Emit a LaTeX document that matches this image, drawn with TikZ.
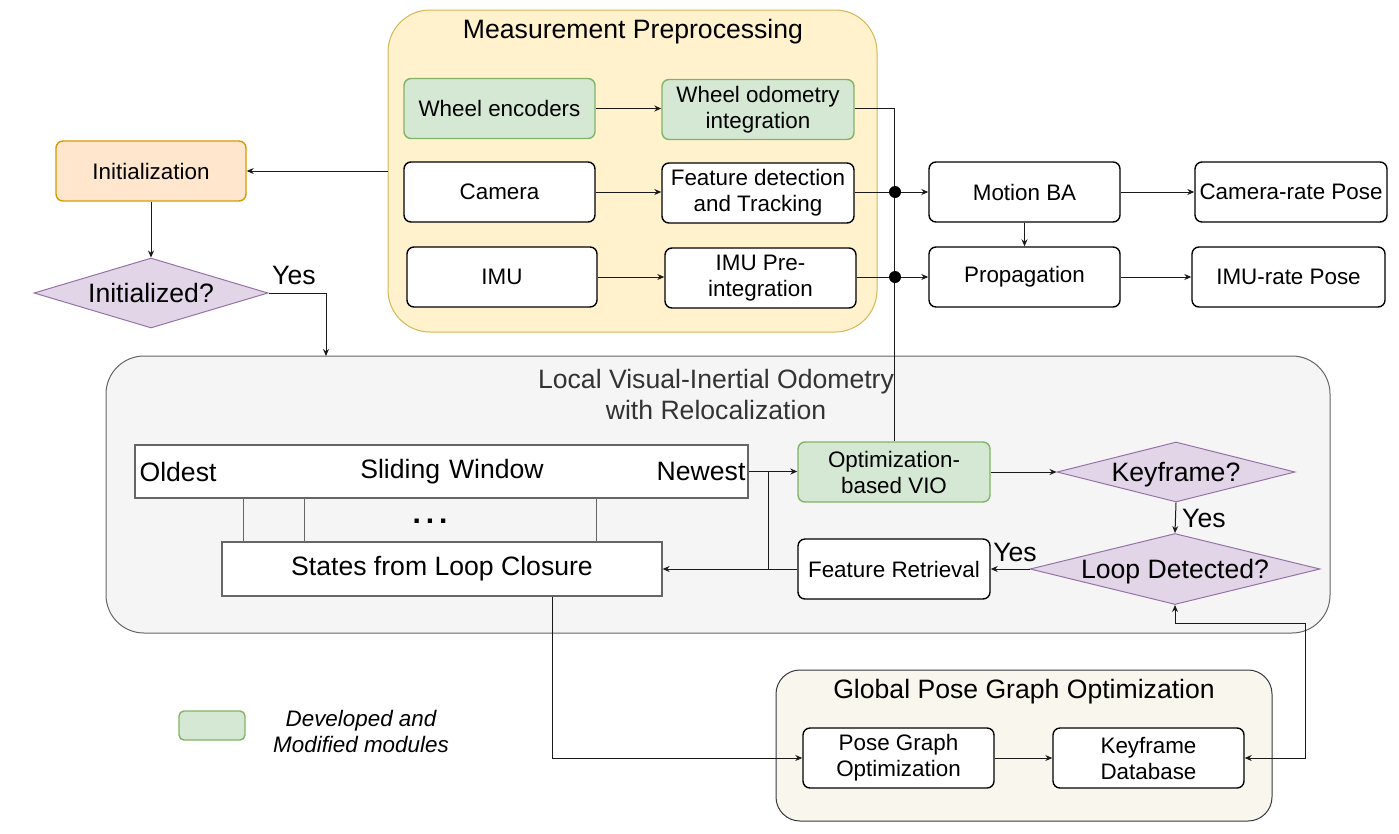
\documentclass[tikz,border=0pt]{standalone}
\usepackage{fontspec}
\setmainfont{Liberation Sans}
\usetikzlibrary{shapes.geometric,arrows.meta,calc}
\definecolor{grnF}{HTML}{D5E8D4}
\definecolor{grnD}{HTML}{82B366}
\definecolor{orgF}{HTML}{FFE6CC}
\definecolor{orgD}{HTML}{D79B00}
\definecolor{purF}{HTML}{E1D5E7}
\definecolor{purD}{HTML}{9673A6}
\definecolor{ylwF}{HTML}{FFF2CC}
\definecolor{ylwD}{HTML}{D6B656}
\definecolor{gryF}{HTML}{F5F5F5}
\definecolor{gryD}{HTML}{666666}
\definecolor{begF}{HTML}{F9F7ED}
\definecolor{begD}{HTML}{36393D}
\definecolor{lineC}{HTML}{1A1A1A}
\definecolor{ttlC}{HTML}{333333}
\newcommand{\nf}{\fontsize{22.4}{26}\selectfont}
\newcommand{\lf}{\fontsize{26.6}{31}\selectfont}
\begin{document}
\begin{tikzpicture}[x=1pt,y=-1pt,
  base/.style={font=\nf, align=center, inner sep=0pt, text=black},
  box/.style={base, draw=black, line width=1.4pt, rounded corners=7pt, fill=white, minimum width=191pt, minimum height=60pt},
  gbox/.style={box, draw=grnD, fill=grnF},
  obox/.style={box, draw=orgD, fill=orgF},
  dia/.style={base, font=\lf, diamond, draw=purD, fill=purF, line width=1pt, text depth=0pt},
  plainbox/.style={base, font=\lf, draw=gryD, line width=1.2pt, fill=white},
  cont/.style={line width=1pt, inner sep=0pt},
  arr/.style={draw=lineC, line width=1pt, -{Stealth[length=7pt,width=6pt]}},
  barr/.style={draw=lineC, line width=1pt, {Stealth[length=7pt,width=6pt]}-{Stealth[length=7pt,width=6pt]}},
  ln/.style={draw=lineC, line width=1pt},
  lbl/.style={font=\lf, inner sep=0pt, align=center},
  dot/.style={circle, fill=black, inner sep=0pt, minimum size=12pt},
]
\useasboundingbox (0,0) rectangle (1399,833);

% containers
\node[cont, draw=ylwD, fill=ylwF, rounded corners=42pt, minimum width=489pt, minimum height=322pt] (mp) at (632.5,171) {};
\node[cont, draw=gryD, fill=gryF, rounded corners=38pt, minimum width=1224pt, minimum height=277pt] (lvio) at (718,494.5) {};
\node[cont, draw=begD, fill=begF, rounded corners=24pt, minimum width=496pt, minimum height=151pt] (gpo) at (1024,745.5) {};

\node[lbl] (mpt) at (633,32) {Measurement Preprocessing};
\node[lbl, text=ttlC] (lviot) at (716,394) {Local Visual-Inertial Odometry\\ with Relocalization};
\node[lbl] (gpot) at (1024,692) {Global Pose Graph Optimization};

% measurement preprocessing
\node[gbox] (we) at (499.5,108.5) {Wheel encoders};
\node[gbox, minimum width=192pt] (wo) at (758,109.5) {Wheel odometry\\integration};
\node[box] (cam) at (499.5,192) {Camera};
\node[box, minimum width=192pt] (fd) at (758,193) {Feature detection\\and Tracking};
\node[box, minimum width=190pt] (imu) at (502,277) {IMU};
\node[box] (imup) at (760.5,278) {IMU Pre-\\integration};

% right side
\node[box] (mba) at (1024.5,192) {Motion BA};
\node[box] (prop) at (1024.5,277) {Propagation};
\node[box, minimum width=192pt] (crp) at (1291,192) {Camera-rate Pose};
\node[box, minimum width=193pt] (irp) at (1288.5,277) {IMU-rate Pose};

% initialization
\node[obox, minimum width=190pt] (init) at (151,171) {Initialization};
\node[dia, minimum width=234pt, minimum height=70pt] (initd) at (151,293) {\makebox[0pt]{Initialized?}};
\node[lbl, anchor=south west] (yes1) at (272,285) {Yes};

% local VIO
\node[plainbox, minimum width=613pt, minimum height=53pt, text width=600pt] (sw) at (441.5,471.5) {\hspace*{21pt}Sliding Window};
\node[lbl, anchor=west] (old) at ($(sw.west)+(5,0)$) {Oldest};
\node[lbl, anchor=east] (new) at ($(sw.east)+(-3,0)$) {Newest};
\node[plainbox, minimum width=440pt, minimum height=54pt] (st) at (442,569) {States from Loop Closure};
\node[lbl, font=\fontsize{30}{34}\selectfont\bfseries] (dots) at (430,521) {.\,.\,.};
\node[gbox, minimum width=192pt] (vio) at (894,472) {Optimization-\\based VIO};
\node[dia, minimum width=238pt, minimum height=60pt] (kf) at (1176,472) {\makebox[0pt]{Keyframe?}};
\node[dia, minimum width=290pt, minimum height=71pt] (ld) at (1175,569) {\makebox[0pt]{Loop Detected?}};
\node[box, minimum width=192pt] (fr) at (894,569) {Feature Retrieval};
\node[lbl, anchor=west] (yes2) at (1182,518) {Yes};
\node[lbl, anchor=south] (yes3) at (1015,562) {Yes};

% global pose graph
\node[box] (pgo) at (898.5,758) {Pose Graph\\Optimization};
\node[box] (kd) at (1148.5,758) {Keyframe\\Database};

% legend
\node[gbox, minimum width=66pt, minimum height=29pt, rounded corners=5pt, line width=1.4pt] (leg) at (212,725.5) {};
\node[base, font=\nf\itshape] (legt) at (361,731) {Developed and\\Modified modules};

% coordinates
\coordinate (j1) at (895,192);
\coordinate (j2) at (895,277);
\coordinate (c1) at (326,356);
\coordinate (c2) at (1305,623);

% connectors
\draw[arr] (we) -- (we -| wo.west);
\draw[arr] (cam) -- (cam -| fd.west);
\draw[arr] (imu) -- (imu -| imup.west);
\draw[ln] (we -| wo.east) -| (vio.north);
\draw[ln] (cam -| fd.east) -- (j1);
\draw[arr] (j1) -- (mba.west);
\draw[ln] (imu -| imup.east) -- (j2);
\draw[arr] (j2) -- (prop.west);
\node[dot] at (j1) {};
\node[dot] at (j2) {};
\draw[arr] (mba.south) -- (prop.north);
\draw[arr] (mba) -- (crp);
\draw[arr] (prop) -- (irp);
\draw[arr] (mp.west) -- (init.east);
\draw[arr] (init.south) -- (initd.north);
\draw[arr] (initd.east) -| (c1);

\draw[draw=gryD, line width=1pt] (sw.south) ++(-198.5,0) -- ++(0,44);
\draw[draw=gryD, line width=1pt] (sw.south) ++(-137.5,0) -- ++(0,44);
\draw[draw=gryD, line width=1pt] (sw.south) ++(154.5,0) -- ++(0,44);

\draw[arr] (sw.east) -- (sw.east -| vio.west);
\draw[arr] (fr.west) -- (st.east);
\draw[ln] (fr.west) ++(-29,0) -- ++(0,-97.5);
\draw[arr] (vio.east) -- (kf.west);
\draw[arr] (kf.south) -- (ld.north);
\draw[arr] (ld.west) -- (fr.east);
\draw[barr] (ld.south) |- (c2) |- (kd.east);
\draw[arr] ($(st.south)+(110,0)$) |- (pgo.west);
\draw[arr] (pgo) -- (kd);
\end{tikzpicture}
\end{document}
